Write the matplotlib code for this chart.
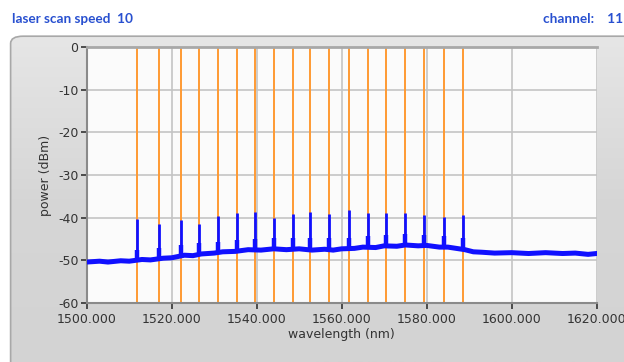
import numpy as np
import matplotlib
matplotlib.use("Agg")
import matplotlib.pyplot as plt
from matplotlib.patches import FancyBboxPatch
from matplotlib.colors import LinearSegmentedColormap
from matplotlib.ticker import FormatStrFormatter

plt.rcParams['axes.unicode_minus'] = False

# baseline of the spectrum (nm, dBm)
base_wl = [1500, 1503, 1505, 1508, 1510, 1513, 1515, 1518, 1520, 1523, 1525, 1527,
           1530, 1532, 1535, 1538, 1541, 1544, 1547, 1550, 1553, 1556, 1558, 1560,
           1563, 1565, 1568, 1570, 1573, 1575, 1578, 1580, 1583, 1585, 1587, 1589,
           1591, 1593, 1596, 1600, 1604, 1608, 1612, 1615, 1618, 1620]
base_dbm = [-50.4, -50.2, -50.4, -50.1, -50.2, -49.8, -49.9, -49.5, -49.4, -48.8, -48.9, -48.5,
            -48.3, -48.0, -47.9, -47.5, -47.6, -47.3, -47.5, -47.3, -47.6, -47.4, -47.6, -47.3,
            -47.2, -46.9, -47.0, -46.6, -46.7, -46.4, -46.6, -46.5, -46.9, -46.9, -47.2, -47.5,
            -48.0, -48.1, -48.3, -48.2, -48.4, -48.2, -48.4, -48.3, -48.6, -48.4]

# channel peaks
peak_wl = [1511.76, 1517.08, 1522.12, 1526.49, 1530.89, 1535.29, 1539.67, 1544.07, 1548.47,
           1552.54, 1557.01, 1561.72, 1566.12, 1570.49, 1574.89, 1579.29, 1584.00, 1588.61]
peak_top = [-40.4, -41.5, -40.5, -41.5, -39.6, -39.0, -38.7, -40.1, -39.1,
            -38.7, -39.1, -38.2, -39.0, -39.0, -39.0, -39.3, -39.9, -39.4]
peak_floor = [-50.1, -49.6, -48.9, -48.6, -48.2, -47.8, -47.5, -47.3, -47.3,
              -47.4, -47.4, -47.3, -47.0, -46.7, -46.5, -46.6, -46.9, -47.4]
# small pedestal at the foot of each peak
peak_knee = [-47.5, -47.0, -46.3, -46.0, -45.6, -45.2, -44.9, -44.7, -44.7,
             -44.8, -44.8, -44.7, -44.4, -44.1, -43.9, -44.0, -44.3, -44.8]

# orange markers at the channel wavelengths
marker_wl = peak_wl

xticks = [1500, 1520, 1540, 1560, 1580, 1600, 1620]
yticks = [0, -10, -20, -30, -40, -50, -60]

fig = plt.figure(figsize=(6.24, 3.62), dpi=100)
fig.patch.set_facecolor('white')

# gray panel with rounded corner and a soft gradient
bg = fig.add_axes([0, 0, 1, 1], zorder=-2)
bg.set_xlim(0, 1)
bg.set_ylim(0, 1)
bg.axis('off')
panel = FancyBboxPatch((0.017, -0.05), 1.1, 0.95, boxstyle="round,pad=0,rounding_size=0.02",
                       transform=bg.transAxes, facecolor='none', edgecolor='#a8a8a8', lw=1.2)
bg.add_patch(panel)
grad = np.linspace(0, 1, 256).reshape(-1, 1)
cmap = LinearSegmentedColormap.from_list('g', ['#d3d3d3', '#d6d6d6', '#e6e6e6'])
img = bg.imshow(grad, extent=[0, 1, 0, 0.9], aspect='auto', cmap=cmap, origin='lower')
img.set_clip_path(panel)

fig.text(0.019, 0.948, 'laser scan speed  10', color='#2850d0', fontsize=9.8,
         fontweight='bold', family='Lato', va='center')
fig.text(0.999, 0.948, 'channel:    11', color='#2850d0', fontsize=9.8,
         fontweight='bold', family='Lato', va='center', ha='right')

ax = fig.add_axes([0.139, 0.163, 0.817, 0.707])
ax.set_facecolor('#fbfbfb')
ax.set_xlim(1500, 1620)
ax.set_ylim(-60, 0)
ax.set_xticks(xticks)
ax.set_yticks(yticks)
ax.xaxis.set_major_formatter(FormatStrFormatter('%.3f'))
ax.grid(True, color='#c4c4c4', lw=1.2, zorder=0)
ax.set_axisbelow(True)

for w in marker_wl:
    ax.axvline(w, color='#ff9a33', lw=1.4, zorder=2)

ax.plot(base_wl, base_dbm, color='#1010ff', lw=3.6, zorder=3, solid_joinstyle='miter')
ax.vlines(peak_wl, peak_floor, peak_top, color='#1010ff', lw=2.0, zorder=3)
ax.vlines(peak_wl, peak_floor, peak_knee, color='#1010ff', lw=3.2, zorder=3)

for s in ['left', 'bottom']:
    ax.spines[s].set_color('#8a8a8a')
    ax.spines[s].set_linewidth(1.5)
ax.spines['top'].set_color('#a8a8a8')
ax.spines['top'].set_linewidth(2)
ax.spines['right'].set_visible(False)

ax.tick_params(axis='both', colors='#333333', labelsize=9, length=4, width=1.2, direction='out')
ax.tick_params(axis='x', pad=3)
ax.tick_params(axis='y', pad=2)
ax.set_xlabel('wavelength (nm)', fontsize=9, color='#333333', labelpad=2)
ax.set_ylabel('power (dBm)', fontsize=9, color='#333333', labelpad=4)

fig.savefig('out.png', dpi=100)
